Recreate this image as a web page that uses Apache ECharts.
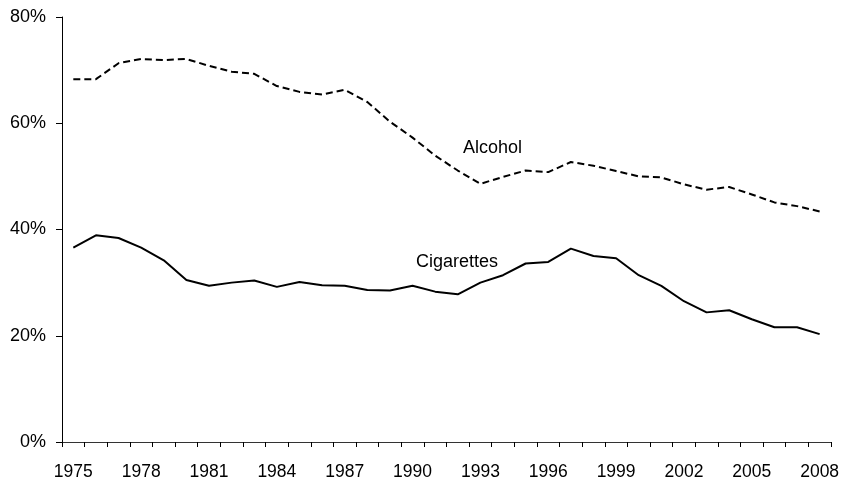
<!DOCTYPE html>
<html>
<head>
<meta charset="utf-8">
<script src="https://cdn.jsdelivr.net/npm/echarts@6/dist/echarts.min.js"></script>
<style>html,body{margin:0;padding:0;background:#fff}#c{width:842px;height:481px}</style>
</head>
<body>
<div id="c"></div>
<script>
const years = ['1975','1976','1977','1978','1979','1980','1981','1982','1983','1984','1985','1986','1987','1988','1989','1990','1991','1992','1993','1994','1995','1996','1997','1998','1999','2000','2001','2002','2003','2004','2005','2006','2007','2008'];
const alcohol = [68.3,68.3,71.3,72.1,71.9,72.1,70.8,69.7,69.3,67.0,65.9,65.4,66.3,64.0,60.3,57.3,53.9,51.1,48.6,49.9,51.1,50.8,52.7,52.0,51.0,50.0,49.8,48.5,47.5,48.0,46.6,45.1,44.4,43.4];
const cigarettes = [36.6,38.9,38.4,36.6,34.2,30.5,29.4,30.0,30.4,29.2,30.1,29.5,29.4,28.6,28.5,29.4,28.3,27.8,30.0,31.4,33.6,33.9,36.4,35.0,34.6,31.4,29.4,26.5,24.4,24.8,23.1,21.6,21.6,20.3];
const yTicks = [0,20,40,60,80];
const seriesLabels = ['Alcohol','Cigarettes'];

const chart = echarts.init(document.getElementById('c'), null, {renderer:'canvas'});
const font = 'Liberation Sans, Arial, sans-serif';
chart.setOption({
  animation:false,
  backgroundColor:'#fff',
  grid:{left:62,right:4,top:17,bottom:38,containLabel:false},
  xAxis:{
    type:'category', data:years, boundaryGap:true,
    axisLine:{lineStyle:{color:'#333',width:1}},
    axisTick:{show:true,length:5,inside:false,interval:0,lineStyle:{color:'#000'}},
    axisLabel:{interval:2,color:'#000',fontFamily:font,fontSize:17.5,margin:21}
  },
  yAxis:{
    type:'value', min:yTicks[0], max:yTicks[yTicks.length-1], interval:20,
    axisLine:{show:true,lineStyle:{color:'#000',width:1}},
    axisTick:{show:true,length:6,lineStyle:{color:'#000'}},
    splitLine:{show:false},
    axisLabel:{formatter:'{value}%',color:'#000',fontFamily:font,fontSize:18,margin:16}
  },
  series:[
    {name:seriesLabels[0],type:'line',data:alcohol,symbol:'none',
     lineStyle:{color:'#000',width:2,type:[7,4]}},
    {name:seriesLabels[1],type:'line',data:cigarettes,symbol:'none',
     lineStyle:{color:'#000',width:2}}
  ],
  graphic:[
    {type:'text',left:463,top:139,style:{text:seriesLabels[0],fill:'#000',font:'18px '+font}},
    {type:'text',left:416,top:253,style:{text:seriesLabels[1],fill:'#000',font:'18px '+font}}
  ]
});
</script>
</body>
</html>
